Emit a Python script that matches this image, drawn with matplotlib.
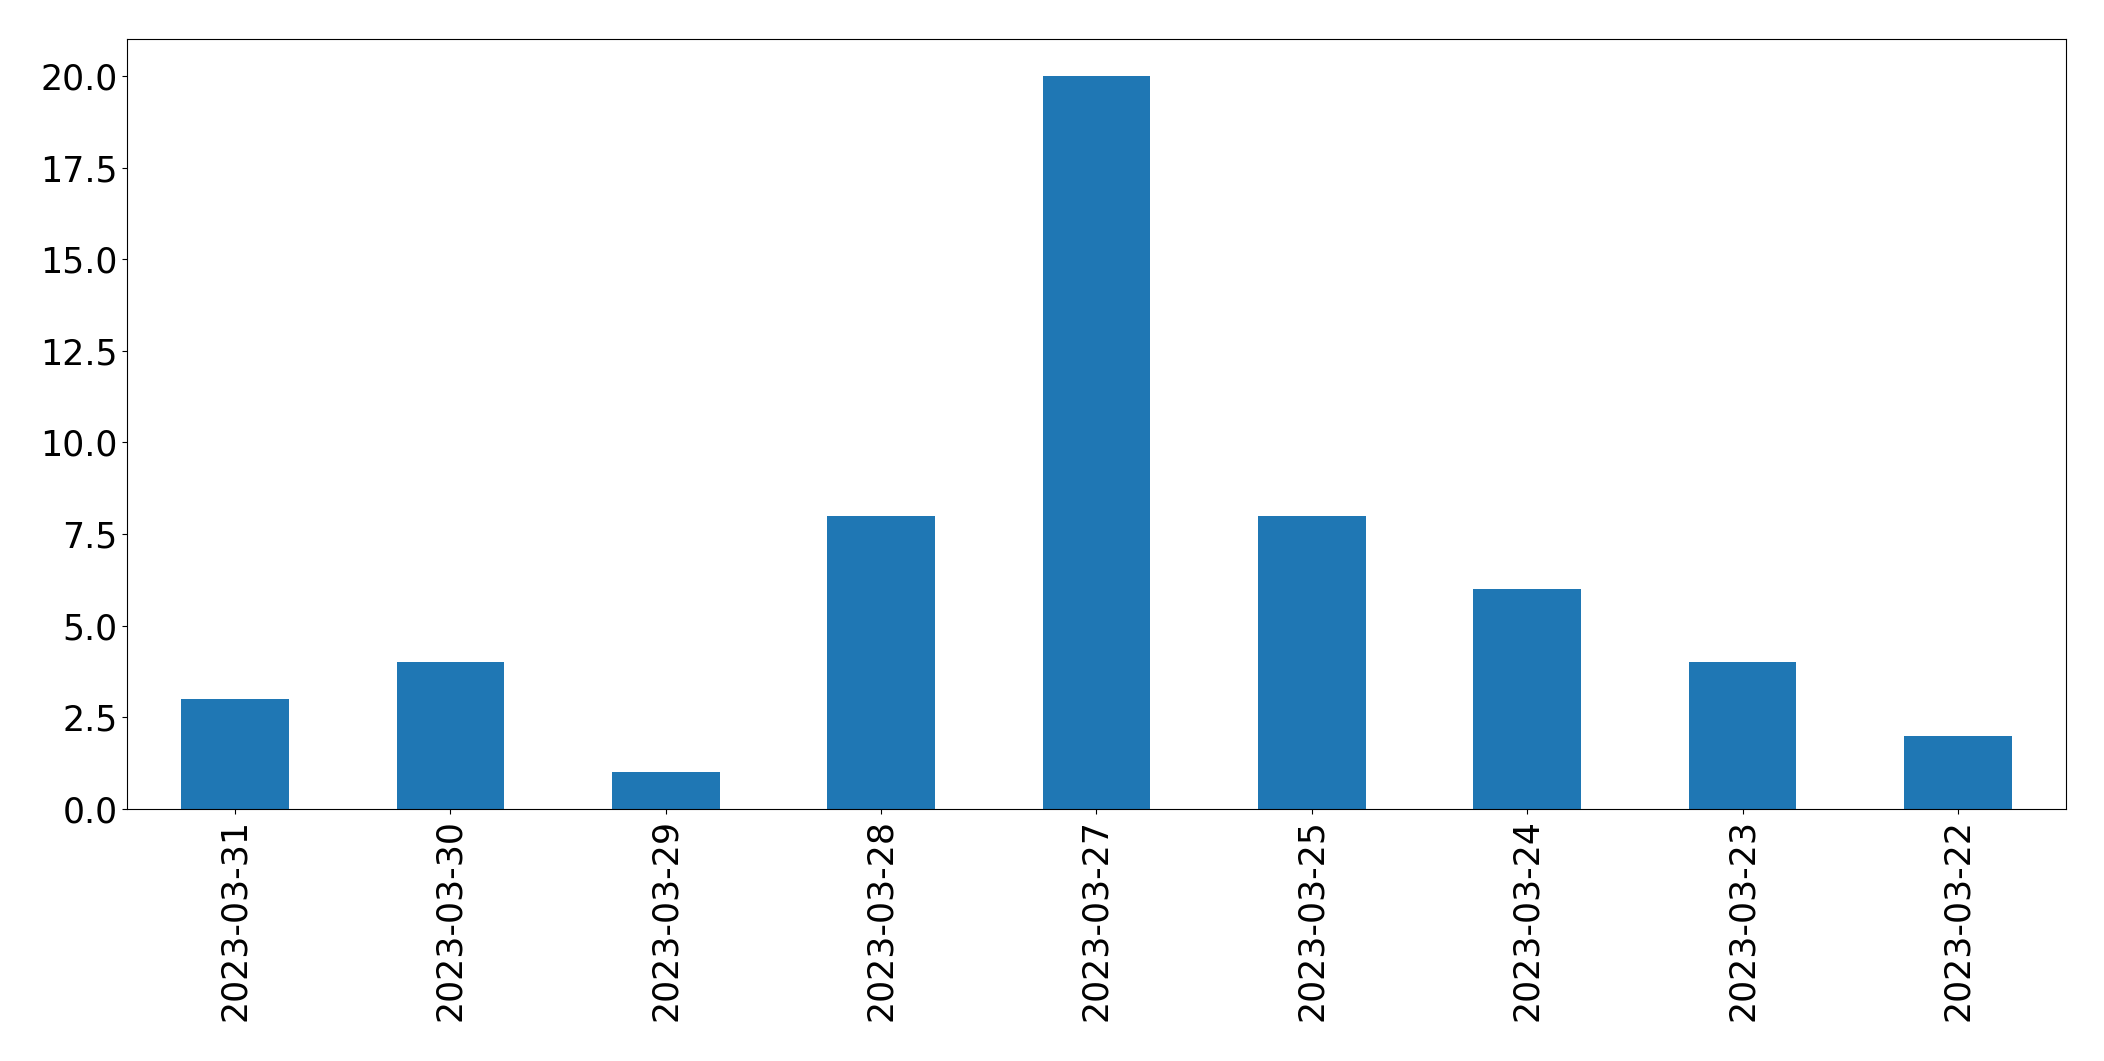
import matplotlib
matplotlib.use("Agg")
import matplotlib.pyplot as plt

dates = ["2023-03-31", "2023-03-30", "2023-03-29", "2023-03-28", "2023-03-27",
         "2023-03-25", "2023-03-24", "2023-03-23", "2023-03-22"]
counts = [3, 4, 1, 8, 20, 8, 6, 4, 2]
yticks = [0, 2.5, 5, 7.5, 10, 12.5, 15, 17.5, 20]

fig = plt.figure(figsize=(21.04, 10.61), dpi=100)
ax = fig.add_axes([0.0605, 0.2375, 0.9213, 0.7255])
x = range(len(dates))
ax.bar(x, counts, width=0.5, color="#1f77b4")
ax.set_xticks(list(x))
ax.set_xticklabels(dates, rotation=90)
ax.set_xlim(-0.5, len(dates) - 0.5)
ax.set_ylim(0, 21)
ax.set_yticks(yticks)
ax.set_yticklabels([f"{v:.1f}" for v in yticks])
ax.tick_params(labelsize=25)
fig.savefig("out.png", dpi=100)
